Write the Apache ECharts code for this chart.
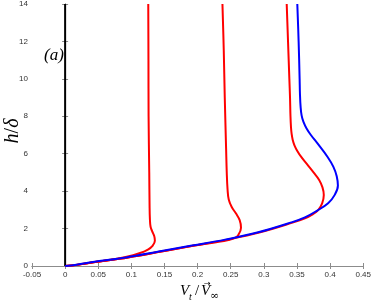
<!DOCTYPE html>
<html><head><meta charset="utf-8">
<script src="https://cdn.jsdelivr.net/npm/echarts@6/dist/echarts.min.js"></script>
<style>html,body{margin:0;padding:0;background:#fff}#c{width:374px;height:300px}</style>
</head><body><div id="c"></div>
<script>
// [V_t/V_inf, h/delta]
const wallLine = [[0,0],[0,14]];
const red1 = [[0,0],[0.018,0.06],[0.043,0.2],[0.068,0.33],[0.093,0.49],[0.112,0.68],[0.125,0.88],[0.132,1.08],[0.1355,1.35],[0.1345,1.6],[0.1315,1.85],[0.129,2.1],[0.128,2.5],[0.1275,3.2],[0.127,5],[0.126,8],[0.1258,11],[0.1255,14]];
const red2 = [[0,0],[0.019,0.07],[0.045,0.21],[0.095,0.46],[0.145,0.77],[0.195,1.09],[0.228,1.27],[0.2465,1.39],[0.2565,1.5],[0.2615,1.66],[0.2655,2.05],[0.2635,2.45],[0.258,2.8],[0.2515,3.15],[0.247,3.55],[0.2452,4.1],[0.244,5],[0.243,6.3],[0.241,9],[0.2395,11.5],[0.2375,14]];
const red3 = [[0,0],[0.019,0.07],[0.045,0.21],[0.095,0.46],[0.145,0.77],[0.195,1.09],[0.245,1.41],[0.2945,1.8],[0.3445,2.33],[0.362,2.55],[0.373,2.75],[0.382,2.99],[0.388,3.35],[0.3905,3.8],[0.3885,4.2],[0.3835,4.6],[0.375,5.0],[0.366,5.4],[0.357,5.8],[0.3505,6.15],[0.3462,6.45],[0.3435,6.75],[0.342,7.05],[0.341,7.4],[0.3402,8],[0.3395,9],[0.3385,10],[0.3365,12],[0.3345,14]];
const blue = [[0,0],[0.017,0.07],[0.042,0.21],[0.092,0.46],[0.1415,0.77],[0.1915,1.09],[0.2415,1.41],[0.2915,1.8],[0.3415,2.33],[0.362,2.6],[0.38,2.95],[0.397,3.35],[0.407,3.8],[0.4118,4.3],[0.41,4.8],[0.405,5.3],[0.396,5.84],[0.381,6.55],[0.371,7.0],[0.3645,7.35],[0.3598,7.7],[0.357,8.05],[0.3555,8.5],[0.3545,9.2],[0.354,10],[0.3525,12],[0.3505,14]];
const xTickLabels = ['-0.05','0','0.05','0.1','0.15','0.2','0.25','0.3','0.35','0.4','0.45'];
const yTickLabels = ['0','2','4','6','8','10','12','14'];

const chart = echarts.init(document.getElementById('c'), null, {renderer:'canvas'});
const axisLine = {show:true, lineStyle:{color:'#8c8c8c', width:1}};
const tick = {show:true, inside:true, length:3, lineStyle:{color:'#8c8c8c'}};
const lbl = {fontSize:8, color:'#333', fontFamily:'Liberation Sans, Arial, sans-serif'};
const xFmt = v => { const i = Math.round((v + 0.05) / 0.05); return xTickLabels[i] ?? ''; };
const yFmt = v => { const i = Math.round(v / 2); return yTickLabels[i] ?? ''; };
function line(data, color, w){ return {type:'line', data, showSymbol:false, smooth:0.4, lineStyle:{color, width:w}, z:3, animation:false}; }
const serifI = 'italic 15px "Liberation Serif", serif';
const serifIs = 'italic 10px "Liberation Serif", serif';
const serifN = '15px "Liberation Serif", serif';
chart.setOption({
  animation:false,
  grid:{left:32, right:8, top:4, bottom:34, containLabel:false},
  xAxis:[
    {type:'value', min:-0.05, max:0.45, interval:0.05, position:'bottom', axisLine, axisTick:tick, splitLine:{show:false}, axisLabel:{...lbl, margin:5, formatter:xFmt}},
    {type:'value', min:-0.05, max:0.45, interval:0.05, position:'top', axisLine, axisTick:tick, splitLine:{show:false}, axisLabel:{show:false}}
  ],
  yAxis:[
    {type:'value', min:0, max:14, interval:2, position:'left', axisLine, axisTick:tick, splitLine:{show:false}, axisLabel:{...lbl, margin:4, formatter:yFmt}},
    {type:'value', min:0, max:14, interval:2, position:'right', axisLine, axisTick:tick, splitLine:{show:false}, axisLabel:{show:false}}
  ],
  series:[
    line(wallLine, '#000', 2),
    line(red1, '#ff0000', 2),
    line(red2, '#ff0000', 2),
    line(red3, '#ff0000', 2),
    line(blue, '#0000ff', 2)
  ],
  graphic:[
    {type:'text', left:44, top:47, style:{text:'(a)', font:'italic 17px "Liberation Serif", serif', fill:'#000'}},
    {type:'text', x:13, y:131, rotation:Math.PI/2, style:{text:'{i|h}{n|/}{i|δ}', align:'center', verticalAlign:'middle', rich:{i:{font:'italic 20px "Liberation Serif", serif', fill:'#000'}, n:{font:'20px "Liberation Serif", serif', fill:'#000'}}}},
    {type:'group', left:180, top:280, children:[
      {type:'text', x:0, y:1, style:{text:'V', font:serifI, fill:'#000'}},
      {type:'text', x:9, y:9, style:{text:'t', font:serifIs, fill:'#000'}},
      {type:'text', x:15, y:1, style:{text:'/', font:serifN, fill:'#000'}},
      {type:'text', x:21, y:1, style:{text:'V', font:serifI, fill:'#000'}},
      {type:'text', x:24, y:-3, style:{text:'→', font:'8px "DejaVu Sans", sans-serif', fill:'#000'}},
      {type:'text', x:30, y:8, style:{text:'∞', font:'11px "DejaVu Serif", serif', fill:'#000'}}
    ]}
  ]
});
</script></body></html>
